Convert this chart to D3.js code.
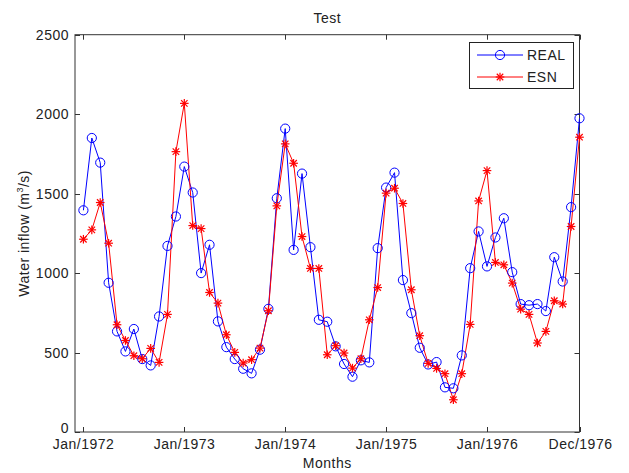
<!DOCTYPE html>
<html><head><meta charset="utf-8">
<script src="https://cdn.jsdelivr.net/npm/d3@7"></script>
<style>body{margin:0;background:#fff}svg{display:block}text{font-family:"Liberation Sans",Arial,sans-serif;letter-spacing:0.5px}</style>
</head><body>
<svg id="c" width="629" height="473"></svg>
<script>
const months = d3.range(60);
const tickIdx = [0, 12, 24, 36, 48, 59];
const tickLabels = ["Jan/1972","Jan/1973","Jan/1974","Jan/1975","Jan/1976","Dec/1976"];
const yTicks = [0, 500, 1000, 1500, 2000, 2500];
const real = [1395,1850,1695,939,633,507,648,459,419,727,1171,1356,
              1670,1507,1000,1178,696,534,459,398,369,518,775,1471,
              1909,1146,1626,1163,706,694,539,428,348,451,438,1157,
              1538,1632,956,748,530,425,440,281,275,482,1031,1262,
              1042,1224,1345,1006,805,798,805,761,1100,947,1415,1974];
const esn = [1213,1272,1444,1188,675,576,480,461,526,438,740,1764,
             2068,1299,1280,878,811,612,501,434,455,528,763,1423,
             1813,1691,1230,1029,1029,486,543,497,402,461,706,909,
             1503,1534,1438,895,606,432,400,367,203,367,677,1454,
             1645,1067,1052,937,773,740,560,633,826,805,1293,1855];
const seriesNames = ["REAL","ESN"];

const svg = d3.select("#c");
const L = 75, R = 579.5, T = 34.7, B = 432;
const x = d3.scaleLinear().domain([-1, 59]).range([L, R]);
const y = d3.scaleLinear().domain([0, 2500]).range([B, T]);
const blue = "#0000ff", red = "#ff0000", axc = "#333", txt = "#222", fs = 14;

svg.append("rect").attr("x", L).attr("y", T).attr("width", R - L).attr("height", B - T)
  .attr("fill", "#fff").attr("stroke", axc).attr("stroke-width", 1);

const tl = 5;
const ax = svg.append("g");
tickIdx.forEach((t, i) => {
  const px = Math.round(x(t)) + 0.5;
  ax.append("line").attr("x1", px).attr("x2", px).attr("y1", B).attr("y2", B - tl).attr("stroke", axc);
  ax.append("line").attr("x1", px).attr("x2", px).attr("y1", T).attr("y2", T + tl).attr("stroke", axc);
  ax.append("text").attr("x", px).attr("y", B + 17).attr("text-anchor", "middle")
    .attr("font-size", fs).attr("fill", txt).text(tickLabels[i]);
});
yTicks.forEach(v => {
  const py = Math.round(y(v)) + 0.5;
  ax.append("line").attr("x1", L).attr("x2", L + tl).attr("y1", py).attr("y2", py).attr("stroke", axc);
  ax.append("line").attr("x1", R).attr("x2", R - tl).attr("y1", py).attr("y2", py).attr("stroke", axc);
  ax.append("text").attr("x", L - 6).attr("y", py + (v === 0 ? 0 : 4)).attr("text-anchor", "end")
    .attr("font-size", fs).attr("fill", txt).text(v);
});

svg.append("text").attr("x", (L + R) / 2).attr("y", 23).attr("text-anchor", "middle")
  .attr("font-size", fs).attr("fill", txt).text("Test");
svg.append("text").attr("x", (L + R) / 2).attr("y", 468).attr("text-anchor", "middle")
  .attr("font-size", fs).attr("fill", txt).text("Months");
const yl = svg.append("text").attr("transform", `translate(29,${(T + B) / 2}) rotate(-90)`)
  .attr("text-anchor", "middle").attr("font-size", fs).attr("fill", txt);
yl.append("tspan").text("Water inflow (m");
yl.append("tspan").attr("font-size", 9).attr("dy", -6).text("3");
yl.append("tspan").attr("dy", 6).text("/s)");

const line = d3.line().x((d, i) => x(i)).y(d => y(d));
const g = svg.append("g");

function star(sel, cx, cy, s, col) {
  const gg = sel.append("g").attr("stroke", col).attr("stroke-width", 1.2);
  gg.append("line").attr("x1", cx - s).attr("x2", cx + s).attr("y1", cy).attr("y2", cy);
  gg.append("line").attr("x1", cx).attr("x2", cx).attr("y1", cy - s).attr("y2", cy + s);
  const d = s * 0.75;
  gg.append("line").attr("x1", cx - d).attr("x2", cx + d).attr("y1", cy - d).attr("y2", cy + d);
  gg.append("line").attr("x1", cx - d).attr("x2", cx + d).attr("y1", cy + d).attr("y2", cy - d);
}

g.append("path").datum(real).attr("d", line).attr("fill", "none").attr("stroke", blue).attr("stroke-width", 1);
g.append("path").datum(esn).attr("d", line).attr("fill", "none").attr("stroke", red).attr("stroke-width", 1);
real.forEach((v, i) => {
  g.append("circle").attr("cx", x(i)).attr("cy", y(v)).attr("r", 4.6)
    .attr("fill", "none").attr("stroke", blue).attr("stroke-width", 1);
});
esn.forEach((v, i) => star(g, x(i), y(v), 4.3, red));

const lg = svg.append("g");
lg.append("rect").attr("x", 469.5).attr("y", 42.5).attr("width", 104).attr("height", 46)
  .attr("fill", "#fff").attr("stroke", "#222");
const ly = [55, 77];
[blue, red].forEach((c, i) => {
  lg.append("line").attr("x1", 477).attr("x2", 523).attr("y1", ly[i]).attr("y2", ly[i]).attr("stroke", c);
  if (i === 0) lg.append("circle").attr("cx", 500).attr("cy", ly[i]).attr("r", 4.6).attr("fill", "none").attr("stroke", c);
  else star(lg, 500, ly[i], 4.3, c);
  lg.append("text").attr("x", 527).attr("y", ly[i] + 5).attr("font-size", fs).attr("fill", txt).text(seriesNames[i]);
});
</script>
</body></html>
